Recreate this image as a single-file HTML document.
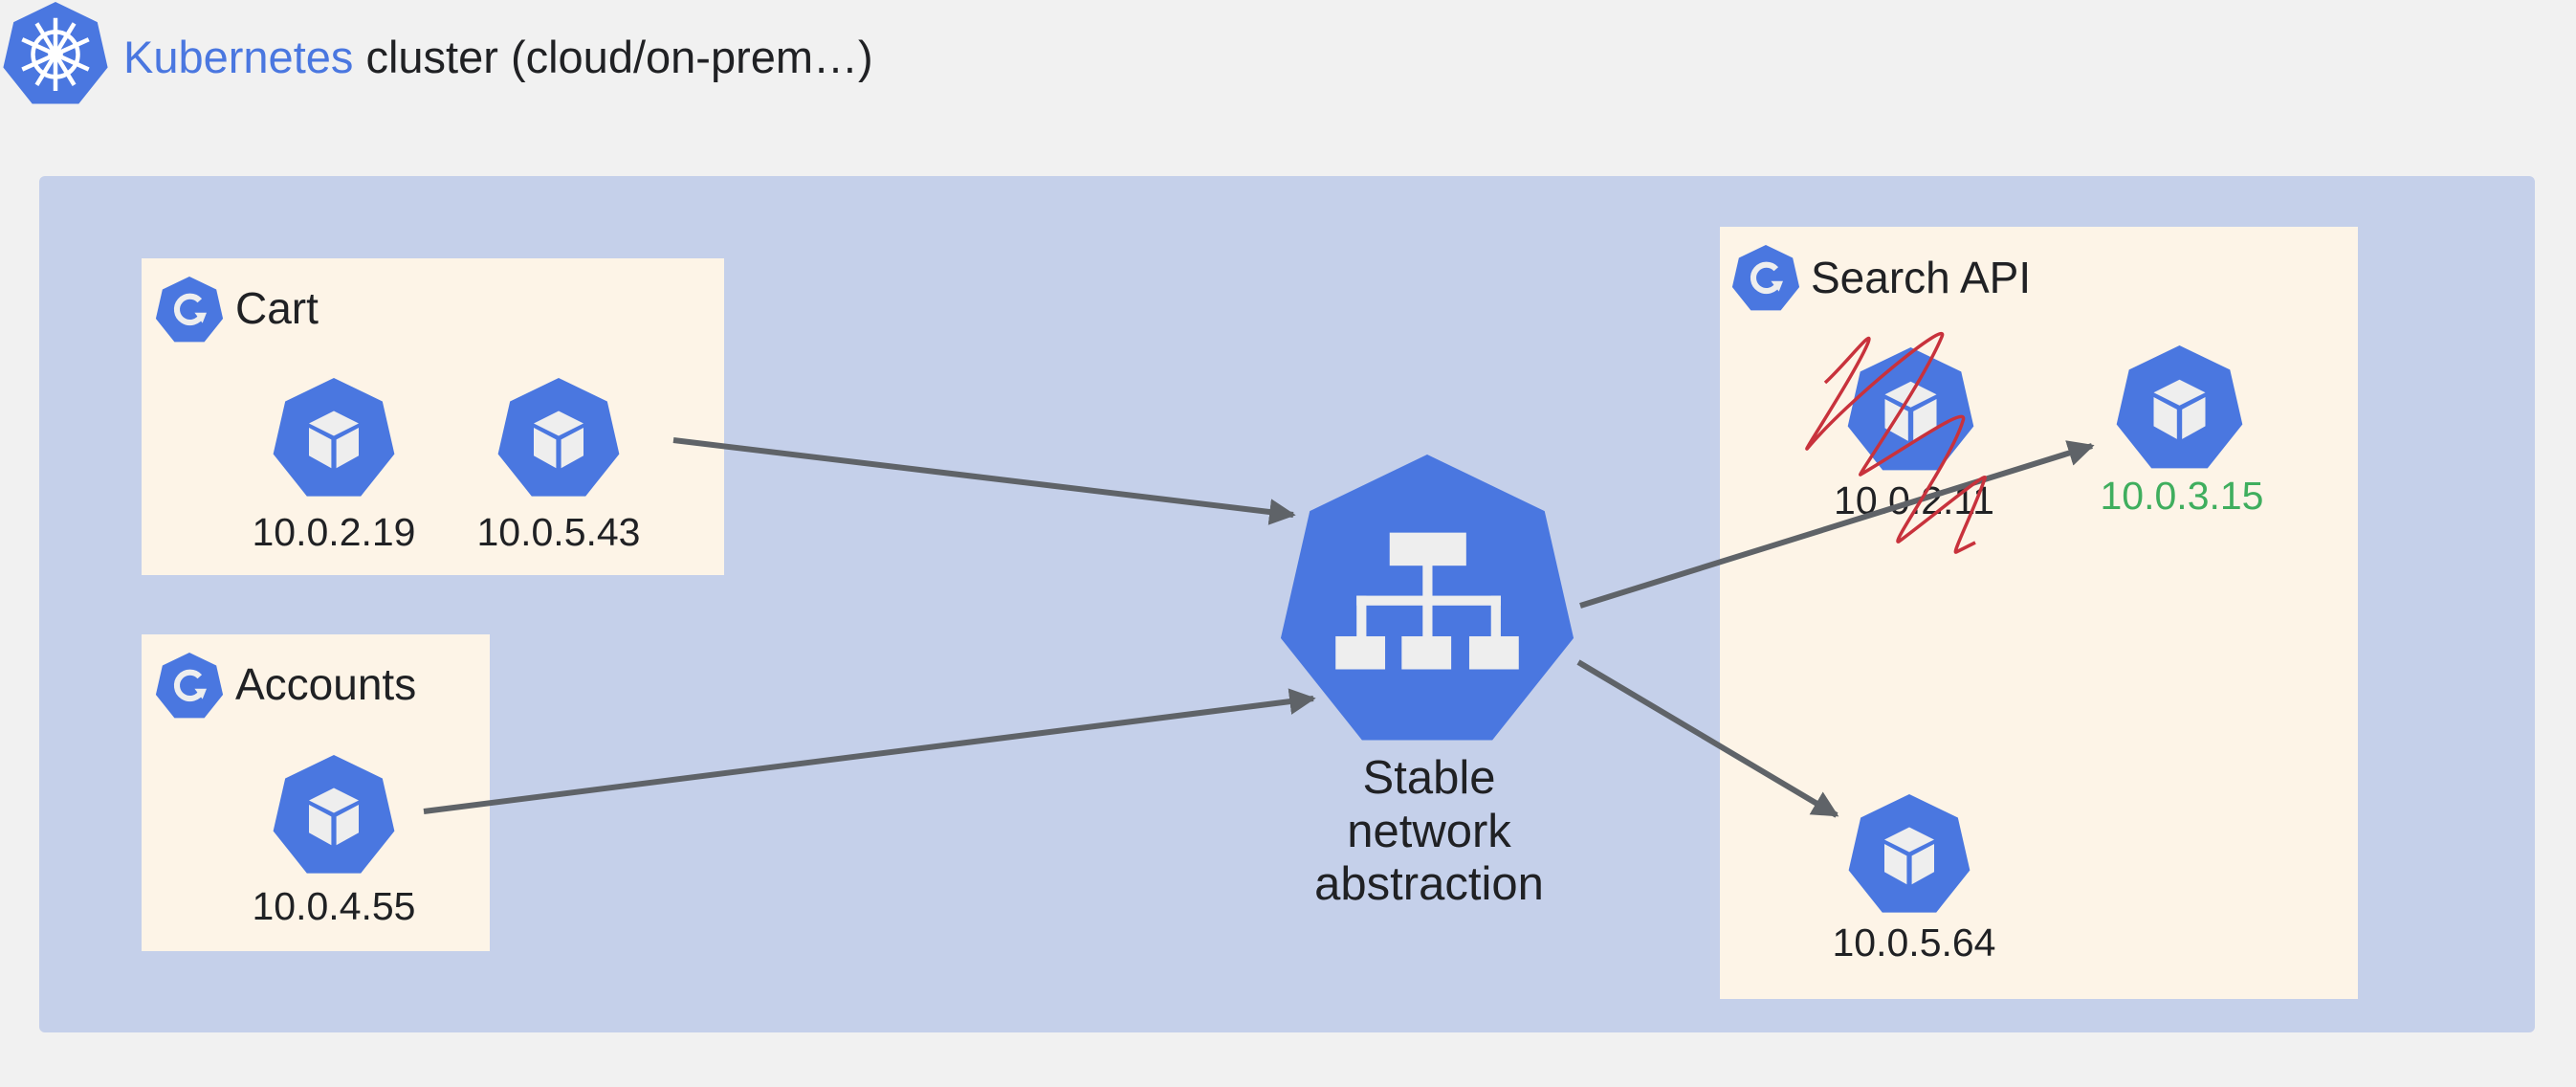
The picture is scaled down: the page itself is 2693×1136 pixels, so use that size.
<!DOCTYPE html>
<html><head><meta charset="utf-8"><style>
html,body{margin:0;padding:0;background:#f1f1f1;}
svg{display:block;}
text{font-family:"Liberation Sans",sans-serif;}
</style></head><body>
<svg width="2693" height="1136" viewBox="0 0 2693 1136" xmlns="http://www.w3.org/2000/svg">
<defs>
<symbol id="pod" viewBox="-1 -1 2 2" overflow="visible">
<polygon points="0,-1 0.7818,-0.6235 0.9749,0.2225 0.4339,0.901 -0.4339,0.901 -0.9749,0.2225 -0.7818,-0.6235" fill="#4a77e0"/>
<polygon points="0,-0.47 0.4,-0.27 0,-0.07 -0.4,-0.27" fill="#eeeeee"/>
<polygon points="-0.4,-0.2 -0.04,-0.01 -0.04,0.45 -0.4,0.25" fill="#eeeeee"/>
<polygon points="0.4,-0.2 0.04,-0.01 0.04,0.45 0.4,0.25" fill="#eeeeee"/>
</symbol>
<symbol id="svc" viewBox="-1 -1 2 2" overflow="visible">
<polygon points="0,-1 0.7818,-0.6235 0.9749,0.2225 0.4339,0.901 -0.4339,0.901 -0.9749,0.2225 -0.7818,-0.6235" fill="#4a77e0"/>
<g fill="#eeeeee">
<rect x="-0.25" y="-0.48" width="0.51" height="0.22"/>
<rect x="-0.61" y="0.21" width="0.33" height="0.22"/>
<rect x="-0.17" y="0.21" width="0.33" height="0.22"/>
<rect x="0.28" y="0.21" width="0.33" height="0.22"/>
<rect x="-0.03" y="-0.27" width="0.065" height="0.5"/>
<rect x="-0.47" y="-0.06" width="0.96" height="0.065"/>
<rect x="-0.47" y="-0.06" width="0.065" height="0.3"/>
<rect x="0.425" y="-0.06" width="0.065" height="0.3"/>
</g>
</symbol>
<symbol id="dep" viewBox="-1 -1 2 2" overflow="visible">
<polygon points="0,-1 0.7818,-0.6235 0.9749,0.2225 0.4339,0.901 -0.4339,0.901 -0.9749,0.2225 -0.7818,-0.6235" fill="#4a77e0"/>
<path d="M0.3,-0.3 A0.38,0.38 0 1 0 0.36,0.12" fill="none" stroke="#eeeeee" stroke-width="0.17"/>
<polygon points="0.15,0.05 0.5,0.05 0.38,0.35" fill="#eeeeee"/>
</symbol>
<symbol id="k8s" viewBox="-1 -1 2 2" overflow="visible">
<polygon points="0,-1 0.7818,-0.6235 0.9749,0.2225 0.4339,0.901 -0.4339,0.901 -0.9749,0.2225 -0.7818,-0.6235" fill="#4a77e0"/>
<g stroke="#ffffff" stroke-width="0.08" fill="none">
<circle cx="0" cy="-0.02" r="0.42"/>
<circle cx="0" cy="-0.02" r="0.1"/>
<line x1="0" y1="-0.7" x2="0" y2="0.66"/>
<line x1="-0.62" y1="-0.3" x2="0.62" y2="0.26"/>
<line x1="0.62" y1="-0.3" x2="-0.62" y2="0.26"/>
<line x1="-0.35" y1="0.55" x2="0.35" y2="-0.6"/>
<line x1="0.35" y1="0.55" x2="-0.35" y2="-0.6"/>
</g>
</symbol>
<marker id="ah" viewBox="0 0 10 10" refX="9" refY="5" markerWidth="4.6" markerHeight="4.6" orient="auto" markerUnits="strokeWidth">
<path d="M0,0 L10,5 L0,10 z" fill="#5f6368"/>
</marker>
</defs>

<rect width="2693" height="1136" fill="#f1f1f1"/>
<use href="#k8s" x="2" y="2" width="112" height="112"/>
<text x="129" y="76" font-size="47" fill="#202124"><tspan fill="#4a77e0">Kubernetes</tspan> cluster (cloud/on-prem…)</text>

<rect x="41" y="184" width="2609" height="895" rx="6" fill="#c5d0ea"/>

<rect x="148" y="270" width="609" height="331" fill="#fdf4e7"/>
<use href="#dep" x="162" y="289" width="72" height="72"/>
<text x="246" y="338" font-size="46" fill="#202124">Cart</text>
<use href="#pod" x="284" y="395" width="130" height="130"/>
<use href="#pod" x="519" y="395" width="130" height="130"/>
<text x="349" y="570" font-size="41" fill="#202124" text-anchor="middle">10.0.2.19</text>
<text x="584" y="570" font-size="41" fill="#202124" text-anchor="middle">10.0.5.43</text>

<rect x="148" y="663" width="364" height="331" fill="#fdf4e7"/>
<use href="#dep" x="162" y="682" width="72" height="72"/>
<text x="246" y="731" font-size="46" fill="#202124">Accounts</text>
<use href="#pod" x="284" y="789" width="130" height="130"/>
<text x="349" y="961" font-size="41" fill="#202124" text-anchor="middle">10.0.4.55</text>

<rect x="1798" y="237" width="667" height="807" fill="#fdf4e7"/>
<use href="#dep" x="1810" y="256" width="72" height="72"/>
<text x="1893" y="306" font-size="46" fill="#202124">Search API</text>
<use href="#pod" x="1930" y="363" width="135" height="135"/>
<use href="#pod" x="2211" y="361" width="135" height="135"/>
<use href="#pod" x="1931" y="830" width="130" height="130"/>
<text x="2001" y="537" font-size="41" fill="#202124" text-anchor="middle">10.0.2.11</text>
<text x="2281" y="532" font-size="41" fill="#3fae5e" text-anchor="middle">10.0.3.15</text>
<text x="2001" y="999" font-size="41" fill="#202124" text-anchor="middle">10.0.5.64</text>

<use href="#svc" x="1335" y="475" width="314" height="314"/>
<text x="1494" y="829" font-size="49" fill="#202124" text-anchor="middle">Stable</text>
<text x="1494" y="885" font-size="49" fill="#202124" text-anchor="middle">network</text>
<text x="1494" y="940" font-size="49" fill="#202124" text-anchor="middle">abstraction</text>

<g stroke="#5f6368" stroke-width="6" fill="none" marker-end="url(#ah)">
<line x1="704" y1="460" x2="1352" y2="538"/>
<line x1="443" y1="848" x2="1373" y2="730"/>
<line x1="1652" y1="633" x2="2187" y2="466"/>
<line x1="1650" y1="692" x2="1920" y2="852"/>
</g>

<path d="M1908,400 C1930,380 1960,340 1953,358 C1940,390 1880,480 1890,468 C1930,420 2040,330 2030,352 C2010,400 1940,500 1945,496 C1990,470 2060,420 2052,440 C2040,480 1975,570 1985,566 C2020,540 2080,490 2075,500 C2065,530 2040,580 2045,577 L2065,567" fill="none" stroke="#c8323c" stroke-width="3.5" stroke-linejoin="round"/>
</svg>
</body></html>
